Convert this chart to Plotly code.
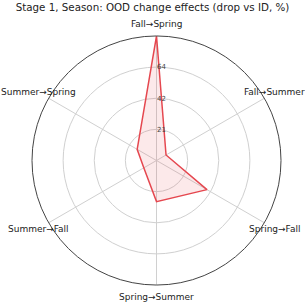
import math
import plotly.graph_objects as go

categories = ["Fall→Spring", "Fall→Summer", "Spring→Fall", "Spring→Summer", "Summer→Fall", "Summer→Spring"]
values = [84.8, 7.5, 39.7, 28.0, 10.0, 15.2]
radial_max = 84.8
tick_vals = [21.2, 42.4, 63.6]
tick_text = ["21", "42", "64"]

fig = go.Figure()
fig.add_trace(go.Scatterpolar(
    r=values + [values[0]],
    theta=categories + [categories[0]],
    mode="lines",
    line=dict(color="#e5474f", width=1.5),
    fill="toself",
    fillcolor="rgba(229,71,79,0.12)",
    showlegend=False,
))

# category labels placed just outside the circle, centred on each spoke
annotations = []
n = len(categories)
for i, cat in enumerate(categories):
    ang = math.radians(90 - 360 * i / n)
    annotations.append(dict(
        text=cat, xref="paper", yref="paper",
        x=0.5 + 0.548 * math.cos(ang), y=0.5 + 0.548 * math.sin(ang),
        xanchor="center", yanchor="middle", showarrow=False,
        font=dict(size=9, color="#222", family="DejaVu Sans"),
    ))

fig.update_layout(
    width=305, height=303,
    margin=dict(l=32, r=24, t=36, b=18),
    paper_bgcolor="white",
    font=dict(family="DejaVu Sans", color="#222"),
    title=dict(text="Stage 1, Season: OOD change effects (drop vs ID, %)",
               x=0.5, xanchor="center", y=0.988, yanchor="top",
               font=dict(size=10.3, color="#222")),
    annotations=annotations,
    polar=dict(
        bgcolor="white",
        domain=dict(x=[0, 1], y=[0, 1]),
        radialaxis=dict(range=[0, radial_max], tickvals=tick_vals, ticktext=tick_text,
                        angle=90, tickangle=90, side="clockwise",
                        showline=False, ticks="",
                        gridcolor="#d0d0d0", gridwidth=1,
                        tickfont=dict(size=7, color="#444")),
        angularaxis=dict(rotation=90, direction="clockwise",
                         showline=True, linecolor="#444", linewidth=1,
                         gridcolor="#d0d0d0", gridwidth=1, ticks="",
                         showticklabels=False),
    ),
)

fig.write_html("out.html", config={"displayModeBar": False},
               post_script="document.body.style.margin='0';document.body.style.overflow='hidden';")
